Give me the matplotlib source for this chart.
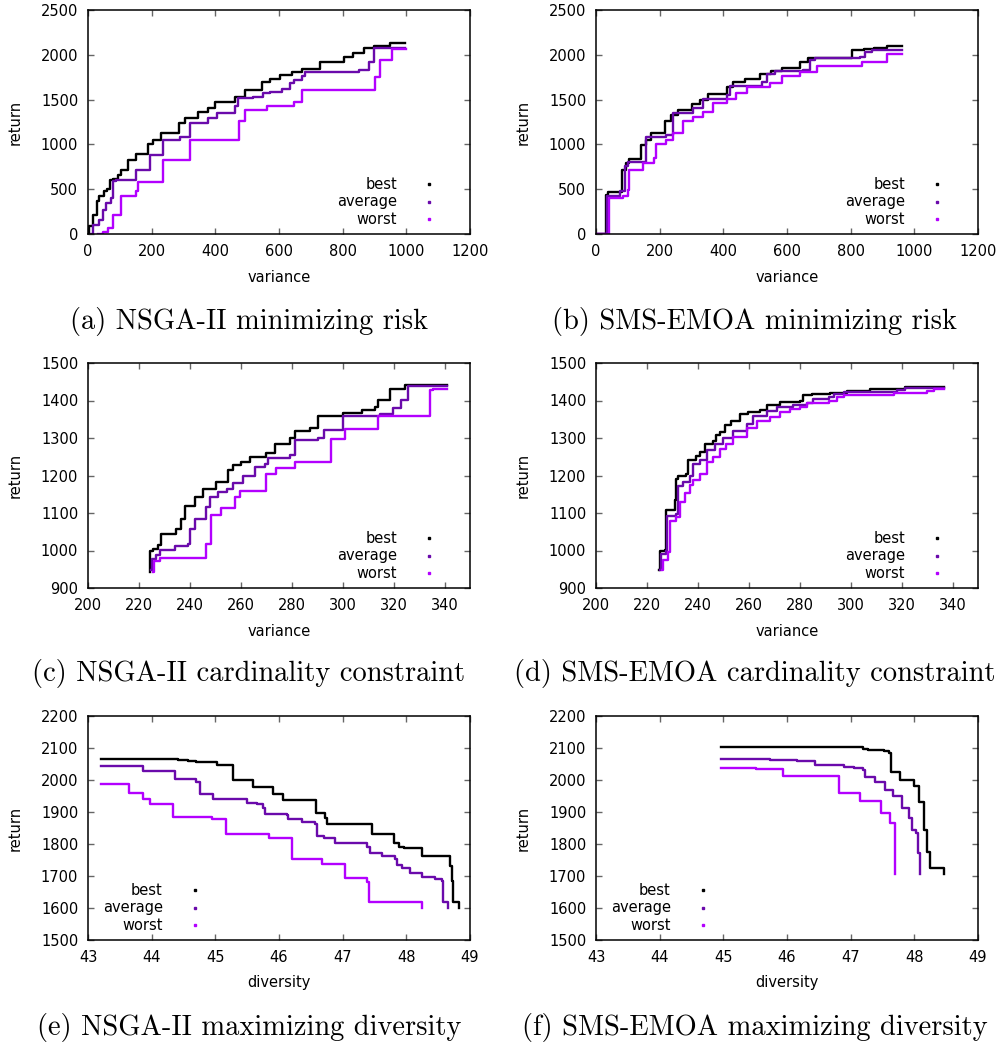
import matplotlib
matplotlib.use('Agg')
import matplotlib.pyplot as plt

# series labels and colours
labels = ['best', 'average', 'worst']
colors = ['#000000', '#6a0aab', '#b300ff']

# (a) NSGA-II minimizing risk
a_best_x = [2, 3, 15, 29, 36, 49, 59, 68, 78, 94, 105, 125, 152, 188, 204, 230, 285, 306, 346, 378, 399, 462, 493, 546, 572, 604, 640, 672, 730, 803, 834, 866, 897, 950, 997]
a_best_y = [0, 85, 215, 364, 420, 475, 500, 605, 613, 660, 717, 828, 895, 1007, 1051, 1125, 1237, 1293, 1367, 1411, 1478, 1534, 1608, 1701, 1731, 1776, 1813, 1839, 1924, 1980, 2025, 2073, 2099, 2135, 2135]
a_avg_x = [10, 15, 36, 47, 57, 73, 78, 89, 152, 194, 236, 288, 320, 378, 404, 462, 472, 519, 551, 572, 609, 635, 646, 672, 682, 850, 882, 897, 997]
a_avg_y = [0, 104, 160, 270, 345, 400, 587, 605, 717, 884, 1051, 1088, 1244, 1293, 1356, 1430, 1516, 1534, 1571, 1590, 1616, 1683, 1720, 1764, 1813, 1831, 1924, 2080, 2080]
a_worst_x = [31, 47, 63, 78, 105, 152, 157, 236, 320, 475, 493, 561, 646, 672, 903, 918, 955, 999]
a_worst_y = [0, 22, 67, 215, 420, 475, 576, 828, 1051, 1256, 1386, 1423, 1478, 1608, 1757, 1943, 2070, 2070]

# (b) SMS-EMOA minimizing risk
b_best_x = [0, 30, 37, 82, 93, 105, 142, 158, 174, 216, 237, 258, 300, 326, 352, 410, 431, 468, 515, 550, 583, 640, 667, 804, 841, 872, 914, 962]
b_best_y = [0, 438, 464, 717, 791, 836, 996, 1051, 1125, 1256, 1330, 1386, 1452, 1497, 1564, 1638, 1701, 1727, 1787, 1824, 1850, 1924, 1961, 2054, 2065, 2080, 2099, 2099]
b_avg_x = [0, 34, 74, 90, 100, 158, 221, 242, 305, 336, 410, 420, 520, 536, 562, 651, 672, 688, 830, 845, 866, 962]
b_avg_y = [0, 420, 475, 754, 799, 1088, 1107, 1348, 1404, 1504, 1553, 1653, 1701, 1787, 1824, 1831, 1943, 1961, 1980, 2036, 2054, 2054]
b_worst_x = [0, 42, 84, 100, 105, 147, 181, 187, 221, 242, 273, 305, 336, 368, 410, 441, 473, 546, 583, 640, 693, 835, 914, 962]
b_worst_y = [0, 400, 427, 494, 717, 791, 847, 1007, 1051, 1125, 1256, 1311, 1367, 1460, 1504, 1571, 1638, 1683, 1764, 1813, 1876, 1924, 2010, 2010]

# (c) NSGA-II cardinality constraint
c_best_x = [224.2, 224.4, 225.5, 227.5, 228.8, 234.7, 236.6, 238.0, 241.9, 245.2, 250.4, 255.0, 257.0, 260.2, 263.5, 270.0, 273.3, 279.2, 281.2, 287.1, 290.4, 300.2, 307.4, 312.7, 314.0, 318.5, 324.4, 340.9]
c_best_y = [943, 1000, 1005, 1014, 1045, 1058, 1085, 1120, 1143, 1165, 1183, 1214, 1227, 1236, 1249, 1260, 1285, 1301, 1320, 1328, 1360, 1368, 1374, 1383, 1402, 1432, 1442, 1442]
c_avg_x = [224.8, 225.0, 226.8, 228.1, 234.0, 239.2, 239.9, 241.9, 246.5, 247.8, 251.1, 254.4, 257.0, 260.9, 265.5, 269.4, 270.7, 279.2, 281.2, 290.5, 292.5, 300.2, 314.6, 319.8, 323.1, 325.7, 340.9]
c_avg_y = [947, 978, 987, 1002, 1011, 1018, 1058, 1085, 1116, 1143, 1156, 1165, 1181, 1200, 1223, 1232, 1248, 1256, 1294, 1301, 1322, 1358, 1365, 1381, 1402, 1440, 1440]
c_worst_x = [225.5, 225.8, 228.1, 246.2, 248.4, 252.4, 257.6, 259.8, 270.0, 274.0, 281.2, 295.6, 300.8, 314.0, 334.3, 335.6, 340.9]
c_worst_y = [943, 972, 981, 1018, 1096, 1114, 1144, 1160, 1203, 1221, 1236, 1298, 1325, 1360, 1427, 1432, 1432]

# (d) SMS-EMOA cardinality constraint
d_best_x = [224.6, 225.0, 227.0, 227.4, 230.9, 231.6, 232.2, 235.5, 236.2, 239.4, 240.7, 242.7, 246.0, 247.0, 248.6, 250.6, 253.2, 256.5, 259.8, 264.4, 267.0, 272.3, 280.1, 281.4, 284.7, 291.9, 298.5, 307.7, 321.5, 336.5]
d_best_y = [947, 1000, 1002, 1109, 1134, 1192, 1200, 1205, 1242, 1251, 1263, 1283, 1292, 1307, 1316, 1334, 1345, 1363, 1369, 1376, 1387, 1396, 1400, 1414, 1418, 1421, 1425, 1430, 1436, 1436]
d_avg_x = [225.3, 225.7, 227.6, 227.9, 231.6, 232.2, 234.2, 236.8, 238.1, 240.7, 243.4, 246.6, 250.0, 253.9, 259.2, 261.7, 267.0, 271.0, 277.5, 282.8, 285.4, 291.4, 293.3, 297.2, 318.2, 321.5, 336.5]
d_avg_y = [947, 992, 1000, 1091, 1098, 1171, 1183, 1200, 1231, 1242, 1267, 1283, 1301, 1320, 1338, 1360, 1371, 1383, 1387, 1393, 1405, 1409, 1418, 1423, 1429, 1433, 1433]
d_worst_x = [225.9, 226.3, 228.3, 229.0, 231.6, 232.9, 234.8, 236.8, 238.1, 240.7, 243.4, 246.0, 248.6, 251.2, 253.9, 259.2, 263.1, 268.3, 272.3, 276.2, 280.1, 282.8, 291.4, 294.6, 297.2, 316.9, 330.0, 332.6, 336.5]
d_worst_y = [947, 974, 996, 1080, 1089, 1129, 1153, 1174, 1187, 1205, 1236, 1249, 1272, 1285, 1304, 1327, 1345, 1356, 1369, 1378, 1384, 1393, 1400, 1409, 1416, 1420, 1425, 1432, 1432]

# (e) NSGA-II maximizing diversity
e_best_x = [43.21, 44.41, 44.57, 44.70, 45.02, 45.27, 45.59, 45.91, 46.06, 46.58, 46.72, 46.75, 47.46, 47.80, 47.88, 47.96, 48.24, 48.69, 48.71, 48.74, 48.83]
e_best_y = [2067, 2062, 2059, 2055, 2046, 1999, 1977, 1956, 1939, 1896, 1880, 1862, 1830, 1802, 1792, 1787, 1763, 1730, 1683, 1620, 1600]
e_avg_x = [43.21, 43.86, 44.36, 44.70, 44.76, 44.96, 45.49, 45.65, 45.75, 45.78, 46.12, 46.14, 46.36, 46.57, 46.59, 46.70, 46.88, 47.38, 47.43, 47.61, 47.82, 47.85, 47.93, 48.06, 48.24, 48.45, 48.56, 48.57, 48.66]
e_avg_y = [2043, 2029, 2002, 1994, 1956, 1941, 1929, 1925, 1911, 1894, 1890, 1879, 1870, 1862, 1825, 1818, 1802, 1792, 1773, 1763, 1752, 1735, 1724, 1709, 1698, 1690, 1683, 1620, 1600]
e_worst_x = [43.21, 43.64, 43.86, 43.98, 44.34, 44.94, 45.16, 45.85, 46.20, 46.67, 47.04, 47.38, 47.42, 48.25]
e_worst_y = [1986, 1960, 1942, 1925, 1885, 1878, 1830, 1820, 1752, 1738, 1693, 1680, 1620, 1600]

# (f) SMS-EMOA maximizing diversity
f_best_x = [44.96, 47.20, 47.28, 47.46, 47.52, 47.60, 47.63, 47.78, 47.99, 48.07, 48.15, 48.20, 48.25, 48.46]
f_best_y = [2103, 2098, 2095, 2093, 2090, 2085, 2026, 2000, 1981, 1932, 1844, 1776, 1724, 1707]
f_avg_x = [44.96, 45.73, 46.15, 46.44, 46.89, 47.05, 47.20, 47.23, 47.39, 47.54, 47.67, 47.81, 47.91, 47.97, 48.02, 48.05, 48.09]
f_avg_y = [2067, 2062, 2059, 2046, 2041, 2036, 2031, 2010, 1994, 1970, 1949, 1911, 1880, 1844, 1833, 1771, 1707]
f_worst_x = [44.96, 45.52, 45.93, 46.82, 47.14, 47.48, 47.61, 47.69]
f_worst_y = [2039, 2034, 2013, 1958, 1934, 1898, 1867, 1707]

captions = ['(a) NSGA-II minimizing risk', '(b) SMS-EMOA minimizing risk',
            '(c) NSGA-II cardinality constraint', '(d) SMS-EMOA cardinality constraint',
            '(e) NSGA-II maximizing diversity', '(f) SMS-EMOA maximizing diversity']

panels = [
    dict(series=[(a_best_x, a_best_y), (a_avg_x, a_avg_y), (a_worst_x, a_worst_y)],
         xlabel='variance', xlim=(0, 1200), xticks=range(0, 1201, 200),
         ylim=(0, 2500), yticks=range(0, 2501, 500), leg='right'),
    dict(series=[(b_best_x, b_best_y), (b_avg_x, b_avg_y), (b_worst_x, b_worst_y)],
         xlabel='variance', xlim=(0, 1200), xticks=range(0, 1201, 200),
         ylim=(0, 2500), yticks=range(0, 2501, 500), leg='right'),
    dict(series=[(c_best_x, c_best_y), (c_avg_x, c_avg_y), (c_worst_x, c_worst_y)],
         xlabel='variance', xlim=(200, 350), xticks=range(200, 341, 20),
         ylim=(900, 1500), yticks=range(900, 1501, 100), leg='right'),
    dict(series=[(d_best_x, d_best_y), (d_avg_x, d_avg_y), (d_worst_x, d_worst_y)],
         xlabel='variance', xlim=(200, 350), xticks=range(200, 341, 20),
         ylim=(900, 1500), yticks=range(900, 1501, 100), leg='right'),
    dict(series=[(e_best_x, e_best_y), (e_avg_x, e_avg_y), (e_worst_x, e_worst_y)],
         xlabel='diversity', xlim=(43, 49), xticks=range(43, 50),
         ylim=(1500, 2200), yticks=range(1500, 2201, 100), leg='left'),
    dict(series=[(f_best_x, f_best_y), (f_avg_x, f_avg_y), (f_worst_x, f_worst_y)],
         xlabel='diversity', xlim=(43, 49), xticks=range(43, 50),
         ylim=(1500, 2200), yticks=range(1500, 2201, 100), leg='left'),
]

W, H = 1001, 1048
fig = plt.figure(figsize=(W / 100, H / 100), dpi=100)

lefts = [88, 596]
rows = [(10, 234), (363, 588), (716, 940)]
cap_y = [322, 673, 1028]
cap_x = [249, 755]
fs = 10.5

for i, p in enumerate(panels):
    r, c = divmod(i, 2)
    top, bot = rows[r]
    ax = fig.add_axes([lefts[c] / W, 1 - bot / H, 382 / W, (bot - top) / H])
    for (x, y), col in zip(p['series'], colors):
        ax.step(x, y, where='post', color=col, lw=1.7)
    ax.set_xlim(*p['xlim'])
    ax.set_ylim(*p['ylim'])
    ax.set_xticks(list(p['xticks']))
    ax.set_yticks(list(p['yticks']))
    ax.tick_params(direction='in', length=4, width=1, color='#666666',
                   top=True, right=True, labelsize=fs, pad=7)
    for s in ax.spines.values():
        s.set_linewidth(1.1)
    ax.set_xlabel(p['xlabel'], fontsize=fs, va='center')
    ax.xaxis.set_label_coords(0.5, -43 / (bot - top))
    ax.set_ylabel('return', fontsize=fs, va='center')
    ax.yaxis.set_label_coords(-0.192, 0.5)

    # gnuplot-style key
    if p['leg'] == 'right':
        tx, mx = 0.809, 0.893
    else:
        tx, mx = 0.196, 0.28
    for k, (lab, col) in enumerate(zip(labels, colors)):
        yy = 0.222 - k * 0.078
        ax.text(tx, yy, lab, transform=ax.transAxes, ha='right', va='center', fontsize=fs)
        ax.plot([mx], [yy], transform=ax.transAxes, marker='s', ms=2, color=col, ls='none')

    fig.text(cap_x[c] / W, 1 - cap_y[r] / H, captions[i], family='cmr10',
             fontsize=20.5, ha='center', va='center')

fig.savefig('out.png', dpi=100)
